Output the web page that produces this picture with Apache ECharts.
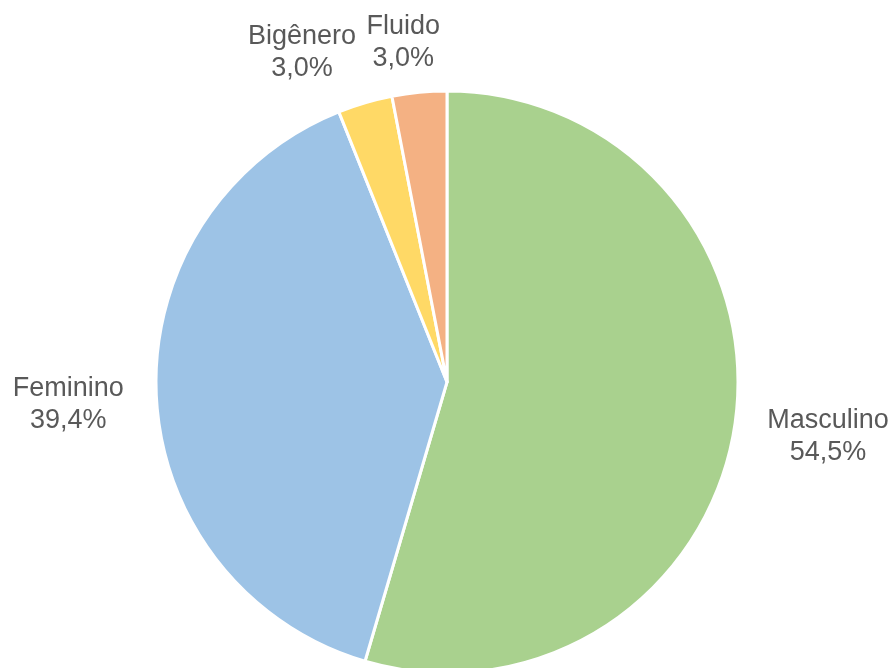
<!DOCTYPE html>
<html>
<head>
<meta charset="utf-8">
<script src="https://cdn.jsdelivr.net/npm/echarts@6/dist/echarts.min.js"></script>
<style>
  html, body { margin: 0; padding: 0; background: #ffffff; }
  #chart { width: 893px; height: 668px; }
</style>
</head>
<body>
<div id="chart"></div>
<script>
// Gender identity breakdown (counts), drawn clockwise from 12 o'clock
const categories = ['Masculino', 'Feminino', 'Bigênero', 'Fluido'];
const counts = [18, 13, 1, 1];
const sliceColors = ['#A9D18E', '#9DC3E6', '#FFD966', '#F4B183'];

const total = counts.reduce((a, b) => a + b, 0);
const pieData = categories.map((name, i) => ({
  name: name,
  value: counts[i],
  itemStyle: { color: sliceColors[i] }
}));

// Where each label block sits, measured from the middle of its slice's rim
const labelOffset = [[93, 13], [-88, 9], [-63, -50], [-16, -50]];

const chart = echarts.init(document.getElementById('chart'), null, { renderer: 'canvas' });
chart.setOption({
  animation: false,
  backgroundColor: '#ffffff',
  series: [{
    type: 'pie',
    center: [447, 382],
    radius: 291,
    startAngle: 90,
    clockwise: true,
    data: pieData,
    itemStyle: { borderColor: '#ffffff', borderWidth: 3 },
    label: {
      show: true,
      position: 'outside',
      width: 150,
      overflow: 'none',
      fontFamily: 'Liberation Sans, Arial, sans-serif',
      fontSize: 27,
      lineHeight: 32,
      color: '#595959',
      formatter: function (p) {
        const pct = (p.value / total * 100).toFixed(1).replace('.', ',');
        return p.name + '\n' + pct + '%';
      }
    },
    // guide line kept only as an anchor for the label layout; not drawn
    labelLine: { show: true, lineStyle: { opacity: 0 } },
    labelLayout: function (params) {
      const rim = params.labelLinePoints[0];
      const off = labelOffset[params.dataIndex];
      return {
        x: rim[0] + off[0],
        y: rim[1] + off[1],
        align: 'center',
        verticalAlign: 'middle'
      };
    },
    emphasis: { disabled: true }
  }]
});
</script>
</body>
</html>
